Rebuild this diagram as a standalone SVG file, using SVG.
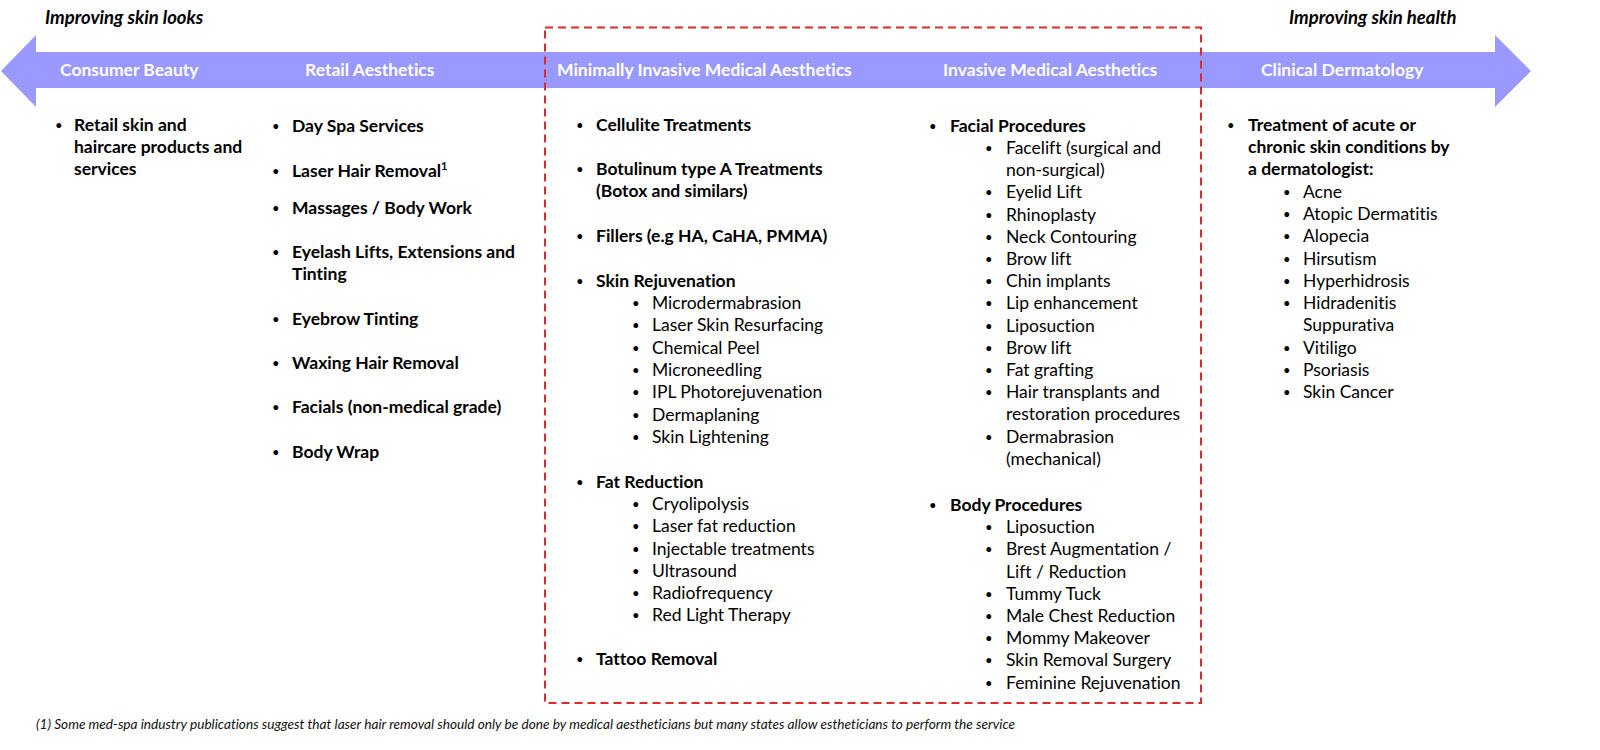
<svg xmlns="http://www.w3.org/2000/svg" width="1600" height="750" viewBox="0 0 1600 750">
<style>
text{font-family:Lato,"Open Sans","Liberation Sans",sans-serif;font-size:17.5px;fill:#000;font-variant-ligatures:none}
.b{font-weight:bold}
.h{font-weight:bold;fill:#fff}
.bi{font-weight:bold;font-style:italic;font-size:18.5px}
.fn{font-style:italic;font-size:12.5px;fill:#111}
.d{font-size:13px}
.box{fill:none;stroke:#e02a2a;stroke-width:2;stroke-dasharray:8 5}
</style>
<rect width="1600" height="750" fill="#fff"/>
<g id="axis">
<polygon points="1,71 36,35 36,52 1495,52 1495,35 1531,71 1495,107 1495,88 36,88 36,107" fill="#9999ff"/>
<text class="bi" x="45" y="24">Improving skin looks</text>
<text class="bi" x="1289" y="24">Improving skin health</text>
</g>
<g id="medical-box">
<rect class="box" x="545" y="27.5" width="656" height="675.5"/>
</g>
<g id="connectors"></g>
<g id="consumer-beauty">
<text class="h" x="60" y="76">Consumer Beauty</text>
<text class="d" x="55" y="130">•</text>
<text class="b" x="74" y="131">Retail skin and</text>
<text class="b" x="74" y="153">haircare products and</text>
<text class="b" x="74" y="175">services</text>
</g>
<g id="retail-aesthetics">
<text class="h" x="305" y="76">Retail Aesthetics</text>
<text class="d" x="272" y="131">•</text><text class="b" x="292" y="132">Day Spa Services</text>
<text class="d" x="272" y="176">•</text><text class="b" x="292" y="177">Laser Hair Removal<tspan font-size="11" dy="-7">1</tspan></text>
<text class="d" x="272" y="213">•</text><text class="b" x="292" y="214">Massages / Body Work</text>
<text class="d" x="272" y="257">•</text><text class="b" x="292" y="258">Eyelash Lifts, Extensions and</text>
<text class="b" x="292" y="280">Tinting</text>
<text class="d" x="272" y="324">•</text><text class="b" x="292" y="325">Eyebrow Tinting</text>
<text class="d" x="272" y="368">•</text><text class="b" x="292" y="369">Waxing Hair Removal</text>
<text class="d" x="272" y="412">•</text><text class="b" x="292" y="413">Facials (non-medical grade)</text>
<text class="d" x="272" y="457">•</text><text class="b" x="292" y="458">Body Wrap</text>
</g>
<g id="minimally-invasive">
<text class="h" x="557" y="76">Minimally Invasive Medical Aesthetics</text>
<text class="d" x="576" y="130">•</text><text class="b" x="596" y="131">Cellulite Treatments</text>
<text class="d" x="576" y="174">•</text><text class="b" x="596" y="175">Botulinum type A Treatments</text>
<text class="b" x="596" y="197">(Botox and similars)</text>
<text class="d" x="576" y="241">•</text><text class="b" x="596" y="242">Fillers (e.g HA, CaHA, PMMA)</text>
<text class="d" x="576" y="286">•</text><text class="b" x="596" y="287">Skin Rejuvenation</text>
<text class="d" x="632" y="308">•</text><text x="652" y="309">Microdermabrasion</text>
<text class="d" x="632" y="330">•</text><text x="652" y="331">Laser Skin Resurfacing</text>
<text class="d" x="632" y="353">•</text><text x="652" y="354">Chemical Peel</text>
<text class="d" x="632" y="375">•</text><text x="652" y="376">Microneedling</text>
<text class="d" x="632" y="397">•</text><text x="652" y="398">IPL Photorejuvenation</text>
<text class="d" x="632" y="420">•</text><text x="652" y="421">Dermaplaning</text>
<text class="d" x="632" y="442">•</text><text x="652" y="443">Skin Lightening</text>
<text class="d" x="576" y="487">•</text><text class="b" x="596" y="488">Fat Reduction</text>
<text class="d" x="632" y="509">•</text><text x="652" y="510">Cryolipolysis</text>
<text class="d" x="632" y="531">•</text><text x="652" y="532">Laser fat reduction</text>
<text class="d" x="632" y="554">•</text><text x="652" y="555">Injectable treatments</text>
<text class="d" x="632" y="576">•</text><text x="652" y="577">Ultrasound</text>
<text class="d" x="632" y="598">•</text><text x="652" y="599">Radiofrequency</text>
<text class="d" x="632" y="620">•</text><text x="652" y="621">Red Light Therapy</text>
<text class="d" x="576" y="664">•</text><text class="b" x="596" y="665">Tattoo Removal</text>
</g>
<g id="invasive">
<text class="h" x="943" y="76">Invasive Medical Aesthetics</text>
<text class="d" x="929" y="131">•</text><text class="b" x="950" y="132">Facial Procedures</text>
<text class="d" x="985" y="153">•</text><text x="1006" y="154">Facelift (surgical and</text>
<text x="1006" y="176">non-surgical)</text>
<text class="d" x="985" y="197">•</text><text x="1006" y="198">Eyelid Lift</text>
<text class="d" x="985" y="220">•</text><text x="1006" y="221">Rhinoplasty</text>
<text class="d" x="985" y="242">•</text><text x="1006" y="243">Neck Contouring</text>
<text class="d" x="985" y="264">•</text><text x="1006" y="265">Brow lift</text>
<text class="d" x="985" y="286">•</text><text x="1006" y="287">Chin implants</text>
<text class="d" x="985" y="308">•</text><text x="1006" y="309">Lip enhancement</text>
<text class="d" x="985" y="331">•</text><text x="1006" y="332">Liposuction</text>
<text class="d" x="985" y="353">•</text><text x="1006" y="354">Brow lift</text>
<text class="d" x="985" y="375">•</text><text x="1006" y="376">Fat grafting</text>
<text class="d" x="985" y="397">•</text><text x="1006" y="398">Hair transplants and</text>
<text x="1006" y="420">restoration procedures</text>
<text class="d" x="985" y="442">•</text><text x="1006" y="443">Dermabrasion</text>
<text x="1006" y="465">(mechanical)</text>
<text class="d" x="929" y="510">•</text><text class="b" x="950" y="511">Body Procedures</text>
<text class="d" x="985" y="532">•</text><text x="1006" y="533">Liposuction</text>
<text class="d" x="985" y="554">•</text><text x="1006" y="555">Brest Augmentation /</text>
<text x="1006" y="578">Lift / Reduction</text>
<text class="d" x="985" y="599">•</text><text x="1006" y="600">Tummy Tuck</text>
<text class="d" x="985" y="621">•</text><text x="1006" y="622">Male Chest Reduction</text>
<text class="d" x="985" y="643">•</text><text x="1006" y="644">Mommy Makeover</text>
<text class="d" x="985" y="665">•</text><text x="1006" y="666">Skin Removal Surgery</text>
<text class="d" x="985" y="688">•</text><text x="1006" y="689">Feminine Rejuvenation</text>
</g>
<g id="clinical-dermatology">
<text class="h" x="1261" y="76">Clinical Dermatology</text>
<text class="d" x="1227" y="130">•</text><text class="b" x="1248" y="131">Treatment of acute or</text>
<text class="b" x="1248" y="153">chronic skin conditions by</text>
<text class="b" x="1248" y="175">a dermatologist:</text>
<text class="d" x="1283" y="197">•</text><text x="1303" y="198">Acne</text>
<text class="d" x="1283" y="219">•</text><text x="1303" y="220">Atopic Dermatitis</text>
<text class="d" x="1283" y="241">•</text><text x="1303" y="242">Alopecia</text>
<text class="d" x="1283" y="264">•</text><text x="1303" y="265">Hirsutism</text>
<text class="d" x="1283" y="286">•</text><text x="1303" y="287">Hyperhidrosis</text>
<text class="d" x="1283" y="308">•</text><text x="1303" y="309">Hidradenitis</text>
<text x="1303" y="331">Suppurativa</text>
<text class="d" x="1283" y="353">•</text><text x="1303" y="354">Vitiligo</text>
<text class="d" x="1283" y="375">•</text><text x="1303" y="376">Psoriasis</text>
<text class="d" x="1283" y="397">•</text><text x="1303" y="398">Skin Cancer</text>
</g>
<g id="footnote">
<text class="fn" x="36" y="729" textLength="979" lengthAdjust="spacingAndGlyphs">(1) Some med-spa industry publications suggest that laser hair removal should only be done by medical aestheticians but many states allow estheticians to perform the service</text>
</g>
</svg>
